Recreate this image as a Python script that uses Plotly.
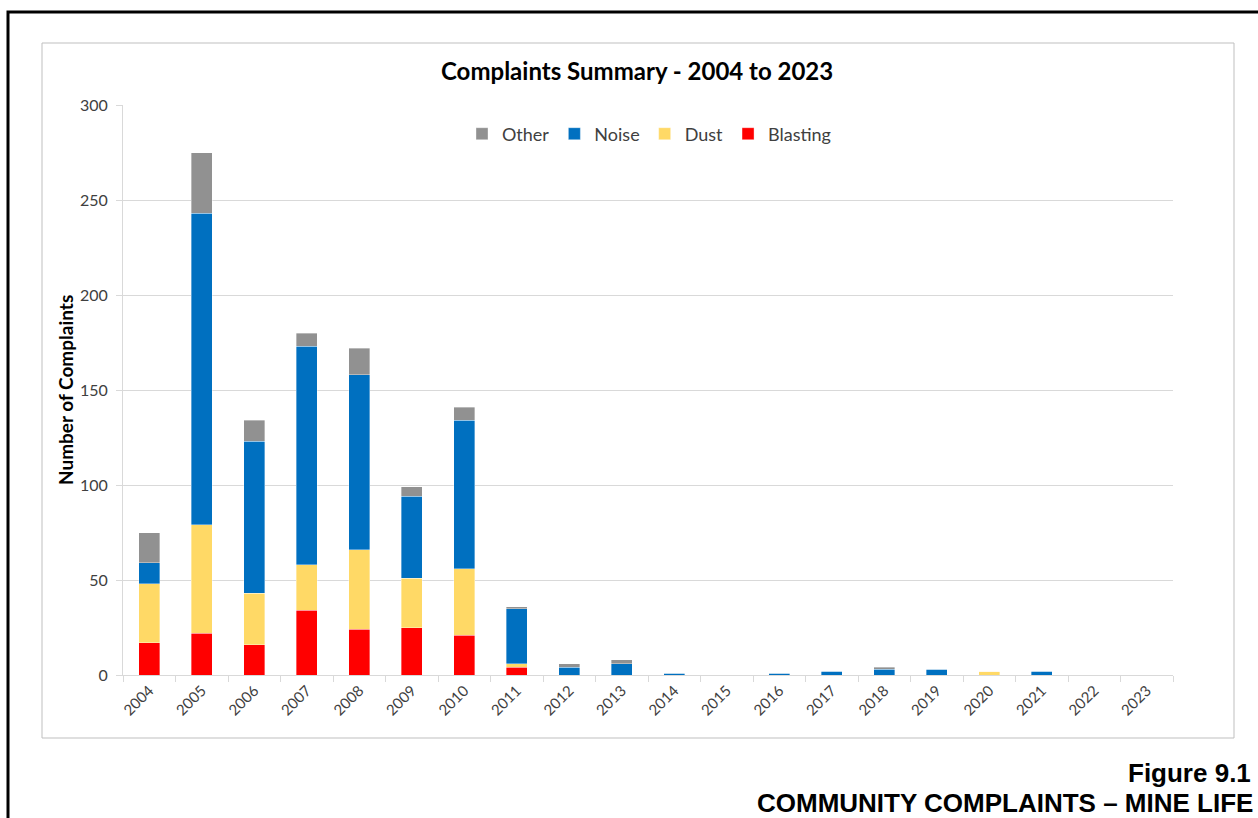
import plotly.graph_objects as go

# Complaint counts per year, by category
years = [str(y) for y in range(2004, 2024)]
blasting = [17, 22, 16, 34, 24, 25, 21, 4, 0, 0, 0, 0, 0, 0, 0, 0, 0, 0, 0, 0]
dust = [31, 57, 27, 24, 42, 26, 35, 2, 0, 0, 0, 0, 0, 0, 0, 0, 2, 0, 0, 0]
noise = [11, 164, 80, 115, 92, 43, 78, 29, 4, 6, 1, 0, 1, 2, 3, 3, 0, 2, 0, 0]
other = [16, 32, 11, 7, 14, 5, 7, 1, 2, 2, 0, 0, 0, 0, 1, 0, 0, 0, 0, 0]

series = [
    ("Blasting", blasting, "#FF0000"),
    ("Dust", dust, "#FFD966"),
    ("Noise", noise, "#0070C0"),
    ("Other", other, "#919191"),
]

W, H = 1258, 818
L, R, T, B = 123, 85, 105, 143
PW, PH = W - L - R, H - T - B


def px(x):
    return (x - L) / PW


def py(y):
    return (H - B - y) / PH


FONT = "Lato, Calibri, sans-serif"

fig = go.Figure()
for name, vals, col in series:
    fig.add_trace(go.Bar(
        x=years, y=vals, name=name,
        marker=dict(color=col, line=dict(width=0.6, color="rgba(255,255,255,0.6)")),
    ))

fig.update_layout(
    width=W, height=H,
    margin=dict(l=L, r=R, t=T, b=B),
    barmode="stack",
    bargap=0.6,
    plot_bgcolor="white",
    paper_bgcolor="white",
    font=dict(family=FONT, color="#404040"),
    showlegend=True,
    legend=dict(
        orientation="h", traceorder="reversed",
        x=px(649), xanchor="center", y=py(134), yanchor="middle",
        font=dict(size=18, color="#404040", family=FONT),
        itemwidth=30, bgcolor="rgba(0,0,0,0)",
    ),
    xaxis=dict(
        type="category", tickangle=-45,
        tickfont=dict(size=15, color="#404040"),
        showline=True, linecolor="#D9D9D9", linewidth=1,
        ticks="outside", ticklen=6, tickcolor="#D9D9D9",
        tickson="boundaries", showgrid=False,
    ),
    yaxis=dict(
        range=[0, 300], dtick=50,
        tickfont=dict(size=16, color="#404040"),
        showline=True, linecolor="#D9D9D9", linewidth=1,
        ticks="outside", ticklen=6, tickcolor="#D9D9D9",
        ticklabelstandoff=5,
        gridcolor="#D9D9D9", gridwidth=1, zeroline=False,
    ),
)

# Chart frame and page border
fig.add_shape(type="rect", xref="paper", yref="paper",
              x0=px(42), x1=px(1234), y0=py(738), y1=py(43),
              line=dict(color="#BFBFBF", width=1), layer="below")
fig.add_shape(type="path", xref="paper", yref="paper",
              path=f"M {px(8)} {py(900)} L {px(8)} {py(12)} L {px(1300)} {py(12)}",
              line=dict(color="black", width=3))

fig.add_annotation(text="<b>Complaints Summary - 2004 to 2023</b>",
                   xref="paper", yref="paper", x=px(637), y=py(70),
                   showarrow=False, xanchor="center", yanchor="middle",
                   font=dict(size=24, color="black", family=FONT))
fig.add_annotation(text="<b>Number of Complaints</b>",
                   xref="paper", yref="paper", x=px(65), y=py(390),
                   showarrow=False, textangle=-90, xanchor="center", yanchor="middle",
                   font=dict(size=19, color="black", family=FONT))
fig.add_annotation(text="<b>Figure 9.1</b>",
                   xref="paper", yref="paper", x=px(1253), y=py(773),
                   showarrow=False, xanchor="right", yanchor="middle",
                   font=dict(size=26, color="black", family="Liberation Sans, Arial"))
fig.add_annotation(text="<b>COMMUNITY COMPLAINTS – MINE LIFE</b>",
                   xref="paper", yref="paper", x=px(1255), y=py(803),
                   showarrow=False, xanchor="right", yanchor="middle",
                   font=dict(size=26, color="black", family="Liberation Sans, Arial"))

fig.write_html("out.html")
